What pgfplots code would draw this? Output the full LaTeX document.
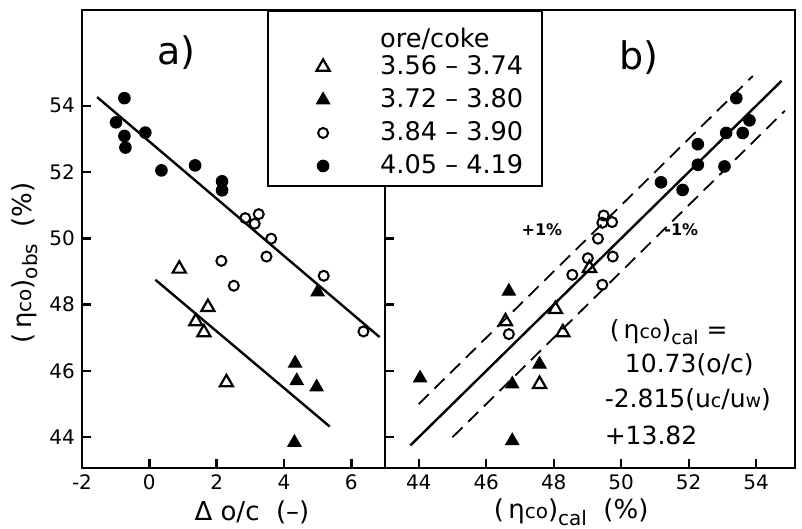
\documentclass[border=0pt]{standalone}
\usepackage{fontspec}
\setmainfont{DejaVu Sans}
\usepackage{pgfplots}
\pgfplotsset{compat=1.18}

\pgfplotsset{
  panel/.style={
    scale only axis, height=229pt,
    ymin=43.07, ymax=56.89,
    ytick={44,46,...,54},
    axis line style={line width=1.4pt},
    tick align=inside, tick pos=left,
    major tick length=4.5pt,
    every tick/.style={black, line width=1.2pt},
    tick label style={font=\fontsize{10}{12}\selectfont},
    /pgf/number format/assume math mode=true,
    label style={font=\fontsize{13}{15}\selectfont},
  },
  fitline/.style={black, line width=1.2pt, no marks},
  dashline/.style={black, line width=0.9pt, dash pattern=on 7pt off 4pt, no marks},
  otri/.style={only marks, line width=1.1pt, mark=triangle, mark size=3.8pt, mark options={fill=white}},
  ftri/.style={only marks, line width=0.5pt, mark=triangle*, mark size=3.8pt, mark options={fill=black}},
  ocirc/.style={only marks, line width=1pt, mark=o, mark size=2.5pt, mark options={fill=white}},
  fcirc/.style={only marks, line width=0.5pt, mark=*, mark size=2.9pt, mark options={fill=black}},
}

% left panel: delta o/c vs observed
\pgfplotstableread{
x y
0.89 49.08
1.74 47.92
1.38 47.49
1.62 47.16
2.29 45.65
}\aot
\pgfplotstableread{
x y
5.00 48.38
4.33 46.23
4.38 45.70
4.97 45.51
4.31 43.84
}\aft
\pgfplotstableread{
x y
3.25 50.73
2.85 50.61
3.13 50.44
3.62 49.99
3.48 49.45
2.14 49.32
5.18 48.87
2.51 48.57
6.36 47.19
}\aoc
\pgfplotstableread{
x y
-0.74 54.23
-0.99 53.50
-0.12 53.19
-0.74 53.09
-0.71 52.74
1.36 52.20
0.36 52.05
2.16 51.72
2.16 51.45
}\afc

% right panel: calculated vs observed
\pgfplotstableread{
x y
49.06 49.10
48.05 47.86
46.57 47.49
48.27 47.16
47.58 45.60
}\bot
\pgfplotstableread{
x y
46.67 48.40
44.04 45.78
47.58 46.20
46.77 45.60
46.77 43.89
}\bft
\pgfplotstableread{
x y
49.48 50.69
49.73 50.49
49.44 50.47
49.31 49.99
49.75 49.45
49.01 49.40
48.55 48.90
49.44 48.60
46.67 47.11
}\boc
\pgfplotstableread{
x y
53.41 54.23
53.80 53.56
53.11 53.18
53.60 53.18
52.27 52.84
52.27 52.22
53.06 52.17
51.18 51.69
51.82 51.46
}\bfc

\begin{document}
\begin{tikzpicture}
\useasboundingbox (0pt,0pt) rectangle (401pt,-264.5pt);

\begin{axis}[panel,
  at={(41pt,-234pt)}, anchor=south west,
  width=151.5pt,
  xmin=-2, xmax=7.0,
  xtick={-2,0,...,6},
  xlabel={Δ o/c\ \ (--)},
  xlabel style={at={(axis description cs:0.561,-0.097)}, anchor=center},
  ylabel={(\,η{\fontsize{10}{12}\selectfont co})\raisebox{-0.45ex}{\fontsize{10}{12}\selectfont obs}\ \ (\%)},
  ylabel style={at={(axis description cs:-0.188,0.448)}, anchor=center, rotate=0},
]
\addplot[fitline] coordinates {(-1.55,54.26) (6.84,47.02)};
\addplot[fitline] coordinates {(0.18,48.75) (5.36,44.32)};
\addplot[otri] table {\aot};
\addplot[ftri] table {\aft};
\addplot[ocirc] table {\aoc};
\addplot[fcirc] table {\afc};
\node[font=\fontsize{19}{21}\selectfont] at (rel axis cs:0.3125,0.906) {a)};
\end{axis}

\begin{axis}[panel,
  at={(192.5pt,-234pt)}, anchor=south west,
  width=205pt,
  xmin=43.0, xmax=55.15,
  xtick={44,46,...,54},
  yticklabels={},
  xlabel={(\,η{\fontsize{10}{12}\selectfont co})\raisebox{-0.45ex}{\fontsize{10}{12}\selectfont cal}\ \ (\%)},
  xlabel style={at={(axis description cs:0.454,-0.097)}, anchor=center},
  legend cell align=left,
  legend image code/.code={\path (-19.5pt,0pt) (4pt,0pt); \draw[#1] plot coordinates {(0pt,0pt)};},
  legend style={at={(rel axis cs:-0.2878,1)}, anchor=north west,
    draw=black, line width=1pt, fill=white,
    font=\fontsize{12.8}{14}\selectfont,
    inner xsep=7.5pt, inner ysep=2.6pt, row sep=1.5pt,
    /tikz/every odd column/.append style={column sep=22pt}},
]
\addlegendimage{empty legend}
\addlegendentry{\raisebox{-3pt}[0.85em][0pt]{ore/coke}}
\addplot[fitline, forget plot] coordinates {(43.75,43.75) (54.75,54.75)};
\addplot[dashline, forget plot] coordinates {(44.0,45.0) (53.9,54.9)};
\addplot[dashline, forget plot] coordinates {(45.0,44.0) (54.85,53.85)};
\addplot[otri] table {\bot};
\addlegendentry{3.56 -- 3.74}
\addplot[ftri] table {\bft};
\addlegendentry{3.72 -- 3.80}
\addplot[ocirc] table {\boc};
\addlegendentry{3.84 -- 3.90}
\addplot[fcirc] table {\bfc};
\addlegendentry{4.05 -- 4.19}
\node[font=\fontsize{19}{21}\selectfont] at (rel axis cs:0.62,0.897) {b)};
\node[font=\bfseries\fontsize{8}{9}\selectfont] at (axis cs:47.65,50.26) {+1\%};
\node[font=\bfseries\fontsize{8}{9}\selectfont] at (axis cs:51.78,50.26) {-1\%};
\begin{scope}[every node/.style={anchor=west, font=\fontsize{12.5}{14}\selectfont, inner sep=0pt}]
\node at (axis cs:49.65,47.18) {(\,η{\fontsize{9.5}{11}\selectfont co})\raisebox{-0.45ex}{\fontsize{9.5}{11}\selectfont cal} =};
\node at (axis cs:50.10,46.18) {10.73(o/c)};
\node at (axis cs:49.50,45.13) {-2.815(u{\fontsize{9.5}{11}\selectfont c}/u{\fontsize{9.5}{11}\selectfont w})};
\node at (axis cs:49.50,44.04) {+13.82};
\end{scope}
\end{axis}
\end{tikzpicture}
\end{document}
